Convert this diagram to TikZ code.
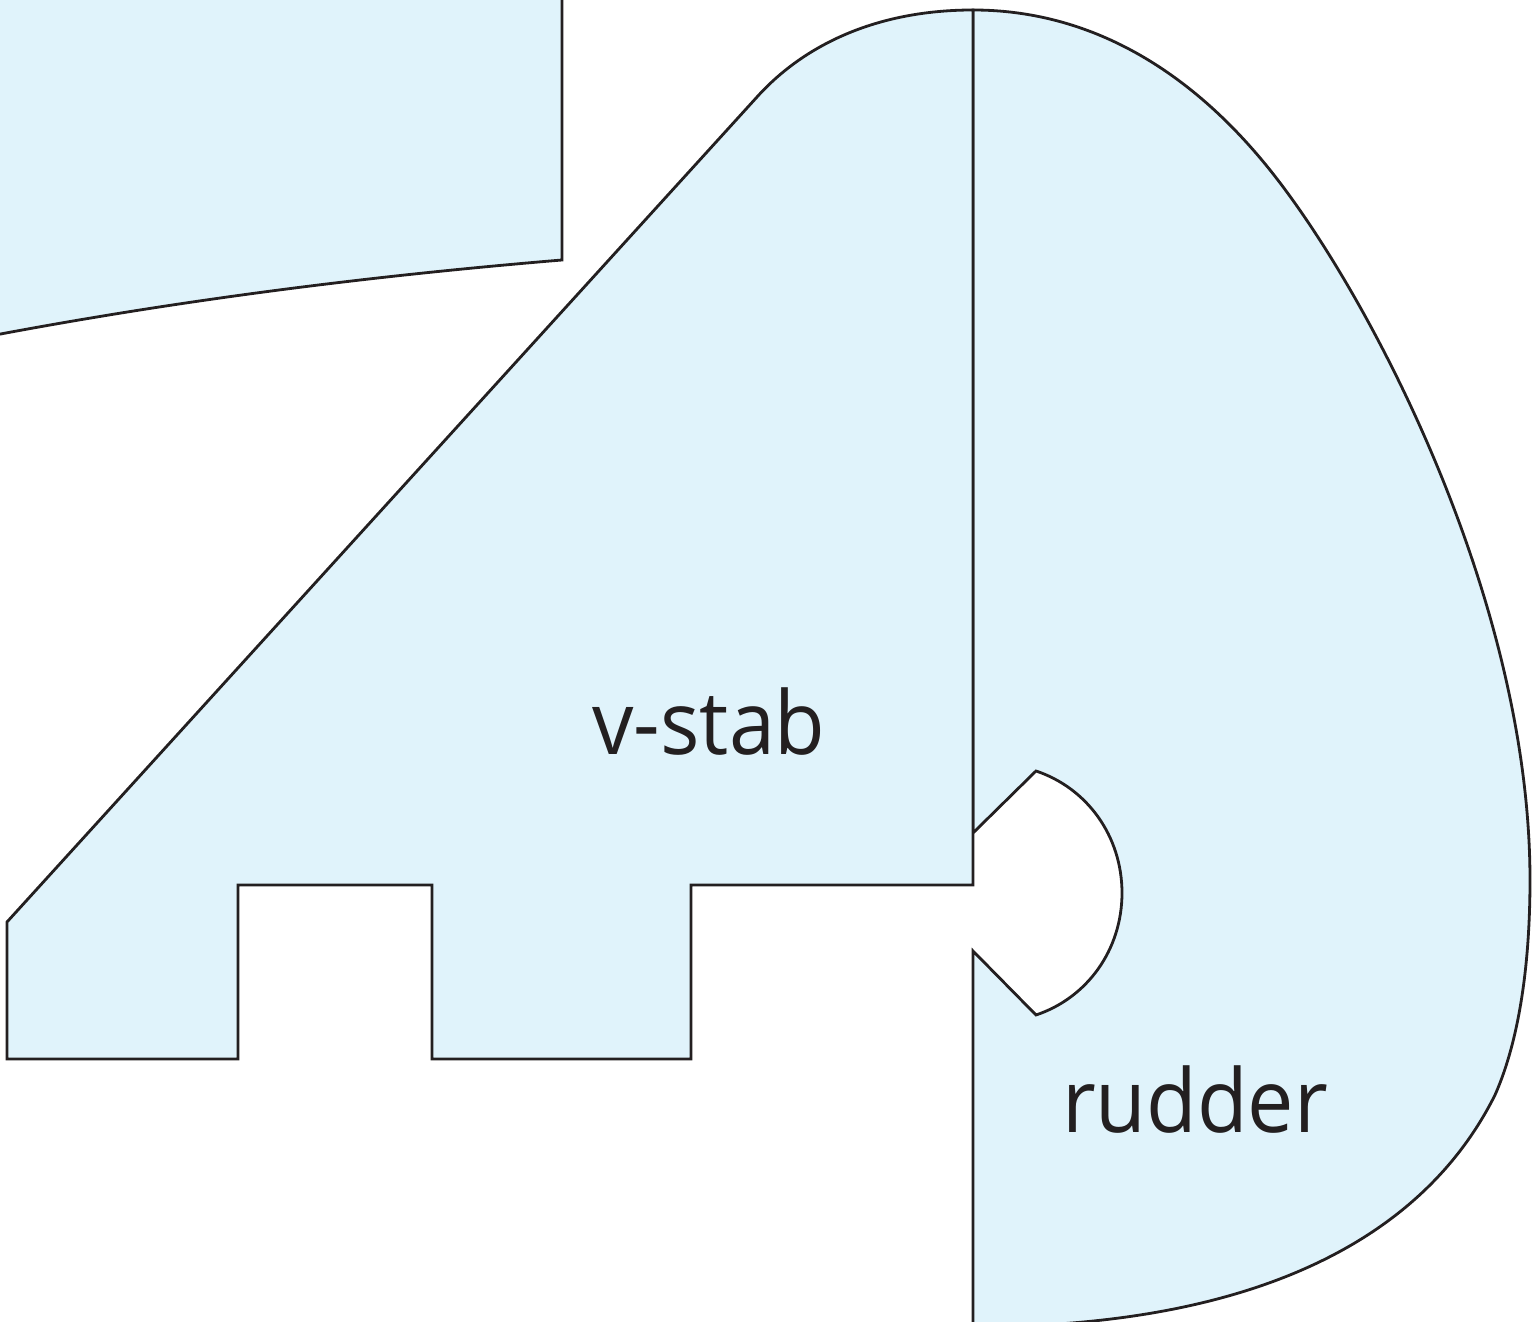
\documentclass[tikz,border=0pt]{standalone}
\usepackage{fontspec}
\setmainfont[FakeStretch=0.94]{Open Sans}
\definecolor{skin}{HTML}{E0F3FB}
\definecolor{ink}{HTML}{231F20}

\begin{document}
\begin{tikzpicture}[x=0.01cm,y=-0.01cm,
    part/.style={draw=ink,fill=skin,line width=0.028cm,line join=miter},
    tag/.style={text=ink,font=\fontsize{25}{25}\selectfont,inner sep=0pt,anchor=base}]

\useasboundingbox (0,0) rectangle (1532,1322);
\clip (0,0) rectangle (1532,1322);

% wing stub
\draw[part] (-10,-10) -- (562,-10) -- (562,260)
  .. controls (370,276) and (180,300) .. (-10,336) -- cycle;

% rudder
\draw[part] (973,10)
  .. controls (1090,10) and (1190,70) .. (1270,170)
  .. controls (1370,295) and (1530,600) .. (1530,880)
  .. controls (1530,980) and (1515,1050) .. (1495,1095)
  .. controls (1420,1245) and (1250,1318) .. (1020,1326)
  -- (973,1330) -- (973,951) -- (1036,1015)
  .. controls (1087,998) and (1122,950) .. (1122,893)
  .. controls (1122,836) and (1087,788) .. (1036,771)
  -- (973,833) -- cycle;

% v-stab
\draw[part] (973,10)
  .. controls (875,10) and (803,46) .. (757,97)
  -- (7,922) -- (7,1059) -- (238,1059) -- (238,885) -- (432,885)
  -- (432,1059) -- (691,1059) -- (691,885) -- (973,885) -- cycle;

% labels
\node[tag] (vstab) at (709,755) {v-stab};
\node[tag] (rudder) at (1195,1133) {rudder};

\end{tikzpicture}
\end{document}
